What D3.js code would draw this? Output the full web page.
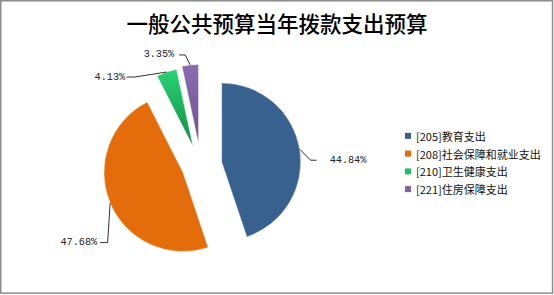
<!DOCTYPE html>
<html><head><meta charset="utf-8">
<script src="https://cdn.jsdelivr.net/npm/d3@7"></script>
<style>html,body{margin:0;padding:0;background:#fff;}svg{display:block;}</style>
</head><body>
<script>
// ---- data ----
const title = "一般公共预算当年拨款支出预算";
const categories = ["[205]教育支出", "[208]社会保障和就业支出", "[210]卫生健康支出", "[221]住房保障支出"];
const values = [44.84, 47.68, 4.13, 3.35];
const labels = ["44.84%", "47.68%", "4.13%", "3.35%"];

// ---- style ----
const W = 554, H = 295;
const colors = ["#386190", "#E46C0A", "#1FBF63", "#8064A2"];
const gradTop = [null, null, "#27D474", "#8A6CB0"];
const gradBot = [null, null, "#128C47", "#6E5492"];
const pieCenter = [200, 159];
const radius = 79;
// explosion offsets per slice (px)
const explode = [[21.7, 3], [-17, 13.5], [-7, -12.5], [-1.5, -15.5]];
// leader: elbow offset from arc point, horizontal length, text gap, side
const leader = [
  {elbow: [11, 11], h: 6, gap: 13, side: 1},
  {elbow: [-2.5, 39.5], h: -7.5, gap: 3, side: -1},
  {elbow: [-32, 5], h: -8, gap: 1.5, side: -1},
  {elbow: [-5, -10], h: -6, gap: 5, side: -1}
];

const svg = d3.select("body").append("svg").attr("width", W).attr("height", H);

// frame
svg.append("rect").attr("x", 0.75).attr("y", 0.75).attr("width", W - 2.2).attr("height", H - 2.6)
  .attr("fill", "#fff").attr("stroke", "#8c8c8c").attr("stroke-width", 1.5);

// title
svg.append("text").attr("x", 277).attr("y", 22).attr("text-anchor", "middle")
  .attr("dominant-baseline", "central")
  .attr("font-family", "'Noto Sans CJK SC', sans-serif").attr("font-weight", 500)
  .attr("font-size", 21.5).attr("fill", "#000").text(title);

const defs = svg.append("defs");
gradTop.forEach((c, i) => {
  if (!c) return;
  const g = defs.append("linearGradient").attr("id", "g" + i)
    .attr("x1", 0).attr("y1", 0).attr("x2", 0).attr("y2", 1);
  g.append("stop").attr("offset", "0%").attr("stop-color", c);
  g.append("stop").attr("offset", "100%").attr("stop-color", gradBot[i]);
});

const pie = d3.pie().sort(null).value(d => d)(values);
const arc = d3.arc().innerRadius(0).outerRadius(radius);

const gPie = svg.append("g").attr("transform", `translate(${pieCenter[0]},${pieCenter[1]})`);
pie.forEach((p, i) => {
  const g = gPie.append("g").attr("transform", `translate(${explode[i][0]},${explode[i][1]})`);
  g.append("path").attr("d", arc(p))
    .attr("fill", gradTop[i] ? `url(#g${i})` : colors[i])
    .attr("stroke", "#fff").attr("stroke-width", 0.4);
  // leader
  const mid = (p.startAngle + p.endAngle) / 2;
  const x1 = Math.sin(mid) * radius, y1 = -Math.cos(mid) * radius;
  const L = leader[i];
  const x2 = x1 + L.elbow[0], y2 = y1 + L.elbow[1];
  const x3 = x2 + L.h;
  g.append("path").attr("d", `M${x1},${y1}L${x2},${y2}L${x3},${y2}`)
    .attr("fill", "none").attr("stroke", "#333").attr("stroke-width", 1);
  g.append("text").attr("x", x3 + L.side * L.gap).attr("y", y2)
    .attr("dominant-baseline", "central")
    .attr("text-anchor", L.side > 0 ? "start" : "end")
    .attr("font-family", "'Liberation Mono', monospace").attr("font-size", 10.2)
    .attr("fill", "#222").text(labels[i]);
});

// legend
const legend = svg.append("g");
const ly = d3.scaleBand().domain(categories).range([127, 198]);
categories.forEach((c, i) => {
  const y = ly(c) + ly.bandwidth() / 2;
  legend.append("rect").attr("x", 405).attr("y", y - 3).attr("width", 6).attr("height", 6).attr("fill", colors[i]);
  legend.append("text").attr("x", 416).attr("y", y).attr("dominant-baseline", "central")
    .attr("font-family", "'Noto Sans CJK SC', sans-serif").attr("font-size", 11)
    .attr("fill", "#111").text(c);
});
</script>
</body></html>
